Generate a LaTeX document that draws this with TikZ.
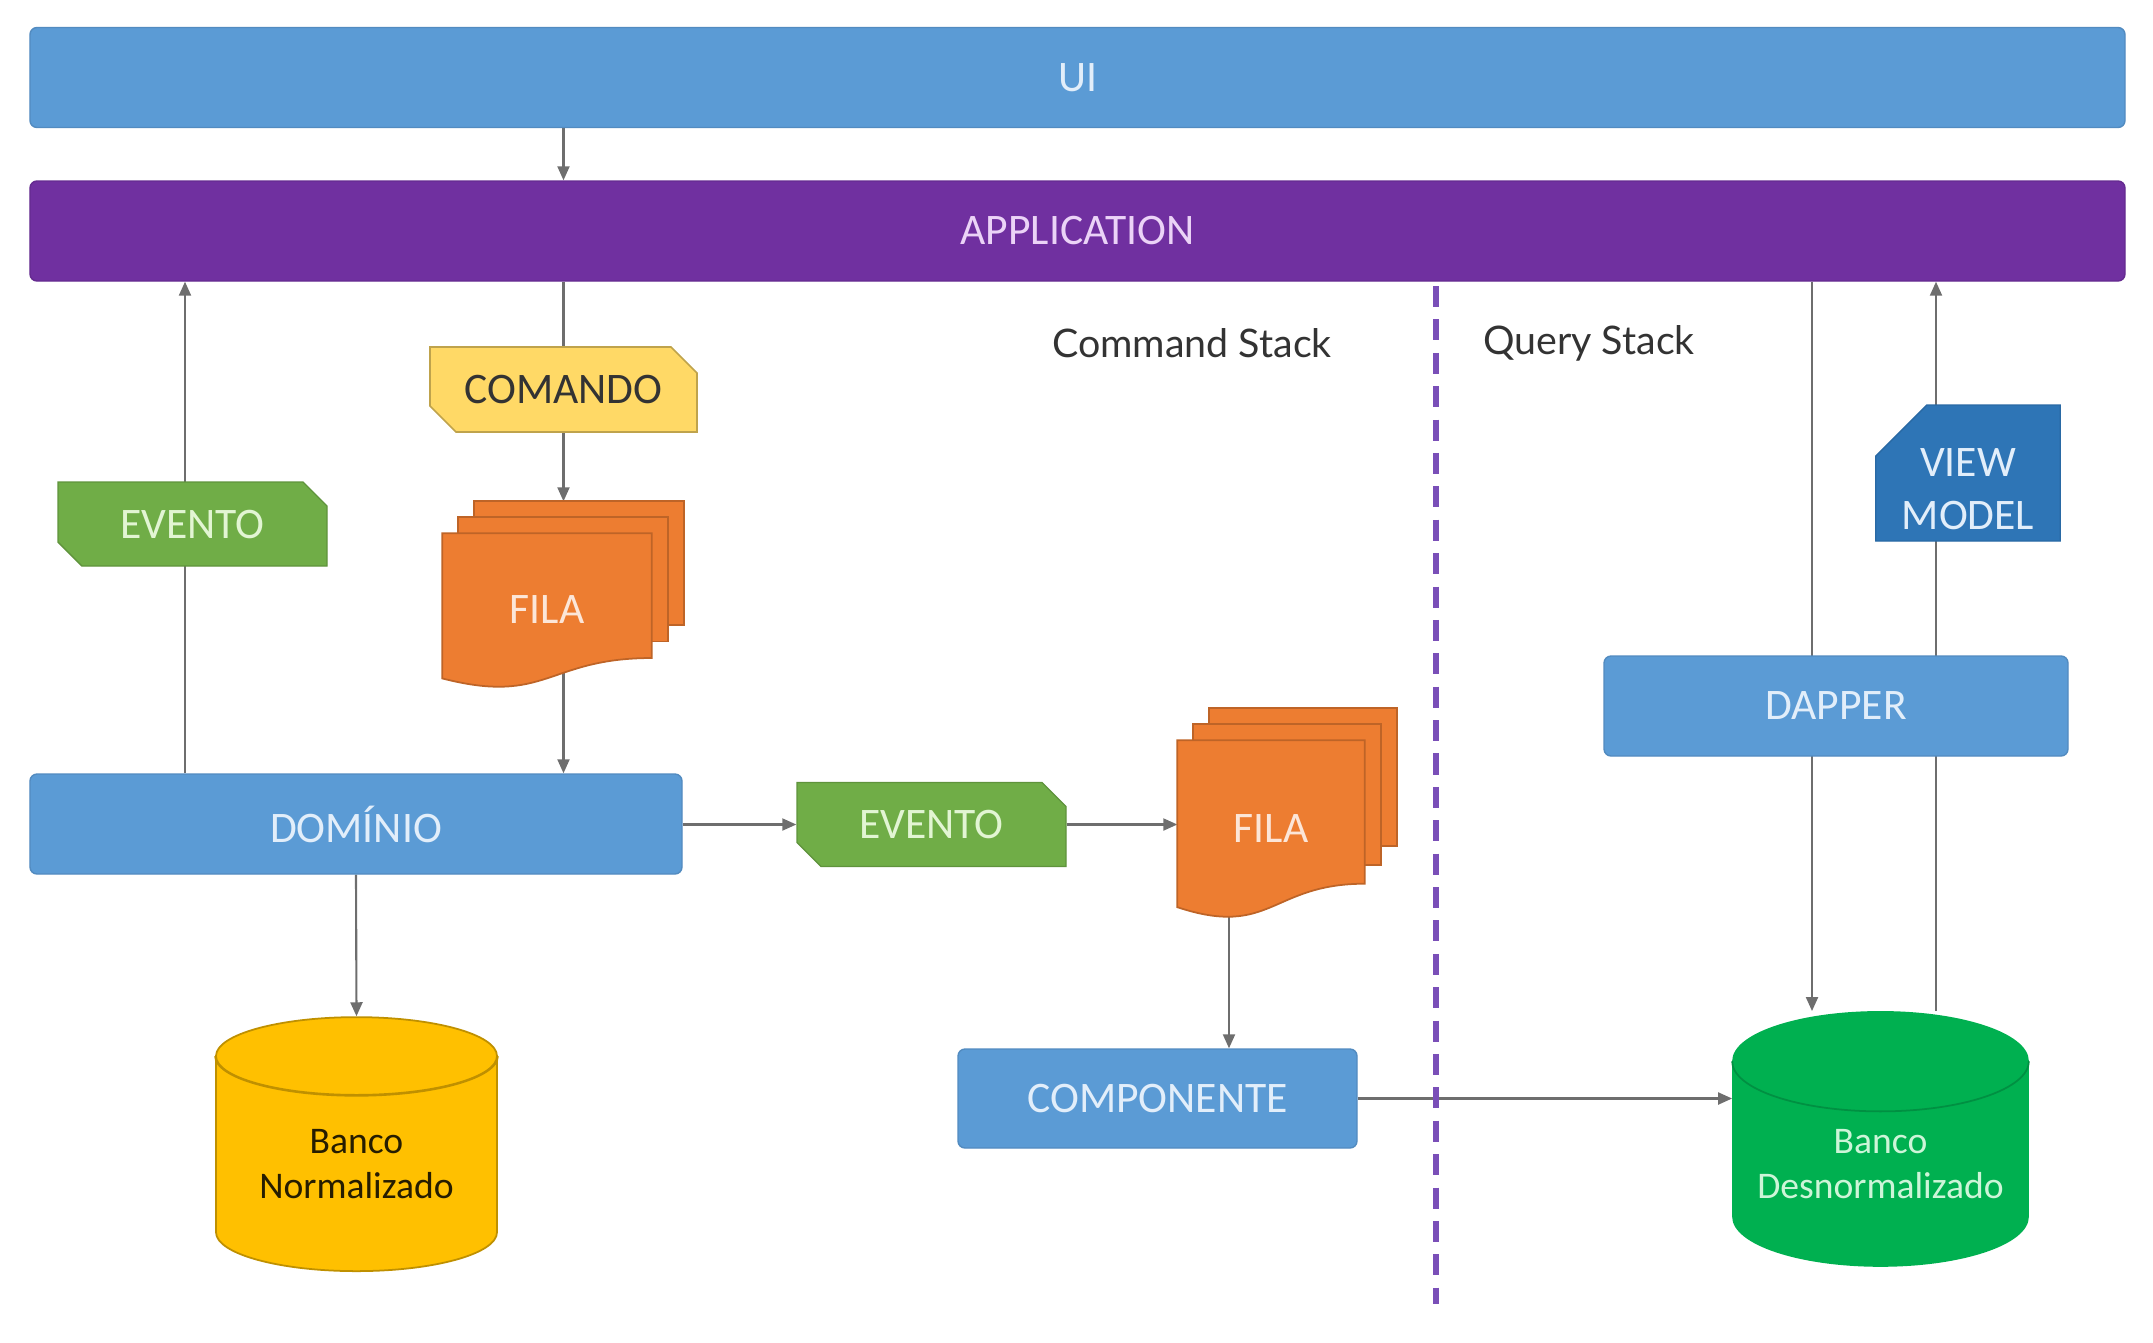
\documentclass[tikz,border=0pt]{standalone}
\usepackage{fontspec}
\setmainfont{Carlito}
\newfontfamily\latofont{Lato}
\usepackage{tikz}
\usetikzlibrary{arrows.meta,calc,shapes.geometric,shapes.misc}
\definecolor{uiblue}{HTML}{5B9BD5}
\definecolor{uitext}{HTML}{E2EEFA}
\definecolor{apppurple}{HTML}{7030A0}
\definecolor{apptext}{HTML}{EBD3F7}
\definecolor{cmdyellow}{HTML}{FFD966}
\definecolor{evgreen}{HTML}{70AD47}
\definecolor{evtext}{HTML}{E2F5D3}
\definecolor{filaorange}{HTML}{ED7D31}
\definecolor{filatext}{HTML}{FCE6D8}
\definecolor{vmblue}{HTML}{2E75B6}
\definecolor{dbyellow}{HTML}{FFC000}
\definecolor{dbgreen}{HTML}{00B050}
\definecolor{dbgtext}{HTML}{CDF5D8}
\definecolor{linegray}{HTML}{6E6E6E}
\definecolor{splitpurple}{HTML}{7A4FB8}
\definecolor{ink}{HTML}{333333}

\pgfdeclarelayer{edges}
\pgfdeclarelayer{pages}
\pgfsetlayers{edges,pages,main}

% three stacked pages behind a FILA node (front page = the node itself)
\newcommand{\filapages}[1]{%
  \begin{pgfonlayer}{pages}
    \filldraw[fill=filaorange, draw=filaorange!80!black, line width=0.5pt]
      let \p1=(#1.north west), \p2=(#1.south east) in
      (\x1+0.32cm,\y1+0.32cm) rectangle ({\x2+0.32cm},{\y1-0.60*(\y1-\y2)});
    \filldraw[fill=filaorange, draw=filaorange!80!black, line width=0.5pt]
      let \p1=(#1.north west), \p2=(#1.south east) in
      (\x1+0.16cm,\y1+0.16cm) rectangle ({\x2+0.16cm},{\y1-0.705*(\y1-\y2)});
    \filldraw[fill=filaorange, draw=filaorange!80!black, line width=0.5pt]
      let \p1=(#1.north west), \p2=(#1.south east) in
      (\x1,\y1) -- (\x2,\y1) -- (\x2,{\y1-0.813*(\y1-\y2)})
      .. controls ({\x1+0.5*(\x2-\x1)},{\y1-0.813*(\y1-\y2)}) and ({\x1+0.5*(\x2-\x1)},{\y1-1.122*(\y1-\y2)})
      .. (\x1,{\y1-0.946*(\y1-\y2)}) -- cycle;
  \end{pgfonlayer}}

% front rim of a cylinder's top
\newcommand{\dbrim}[2]{%
  \draw[#2, line width=0.5pt] let \p1=(#1.before top), \p2=(#1.after top), \p3=(#1.top) in
    ({min(\x1,\x2)},\y1) arc[start angle=180, end angle=360,
      x radius={0.5*abs(\x2-\x1)}, y radius={\y3-\y1}];}

\begin{document}
\begin{tikzpicture}
\useasboundingbox (0,0) rectangle (21.53,-13.42);

\tikzset{
  boxfont/.style={font=\fontsize{12.4}{15}\selectfont},
  layerbar/.style={rectangle, rounded corners=2pt, boxfont, inner sep=0pt,
                   minimum width=20.95cm, minimum height=1.0cm, line width=0.4pt},
  bluebox/.style={rectangle, rounded corners=2pt, fill=uiblue, draw=uiblue!90!black, line width=0.4pt,
                  boxfont, text=uitext, inner sep=0pt, minimum height=1.0cm},
  cmdbox/.style={chamfered rectangle, chamfered rectangle corners={north east,south west},
                 chamfered rectangle xsep=0.13cm, chamfered rectangle ysep=0.13cm,
                 fill=cmdyellow, draw=cmdyellow!75!black, line width=0.5pt, boxfont, text=ink,
                 inner sep=0pt, minimum width=2.67cm, minimum height=0.85cm},
  evbox/.style={chamfered rectangle, chamfered rectangle corners={north east,south west},
                chamfered rectangle xsep=0.12cm, chamfered rectangle ysep=0.12cm,
                fill=evgreen, draw=evgreen!85!black, line width=0.4pt, boxfont, text=evtext,
                inner sep=0pt, minimum width=2.69cm, minimum height=0.84cm},
  vmbox/.style={chamfered rectangle, chamfered rectangle corners=north west,
                chamfered rectangle xsep=0.26cm, chamfered rectangle ysep=0.25cm,
                fill=vmblue, draw=vmblue!90!black, line width=0.4pt, boxfont, text=uitext,
                align=center, inner sep=0pt, inner ysep=-0.14cm, minimum width=1.80cm, minimum height=1.36cm},
  filanode/.style={rectangle, inner sep=0pt, boxfont, text=filatext},
  dbnorm/.style={cylinder, shape border rotate=90, aspect=0.4, draw=dbyellow!75!black, line width=0.5pt,
                 fill=dbyellow, text=black!85!dbyellow, align=center, inner sep=0pt,
                 font=\fontsize{10.7}{12.9}\selectfont, minimum width=2.81cm, minimum height=2.54cm},
  dbdesn/.style={cylinder, shape border rotate=90, aspect=0.4, draw=dbgreen, line width=0.5pt,
                 fill=dbgreen, text=dbgtext, align=center, inner sep=0pt,
                 font=\fontsize{10.7}{12.9}\selectfont, minimum width=2.95cm, minimum height=2.54cm},
  stacklabel/.style={font=\latofont\fontsize{11.2}{13}\selectfont, text=ink},
  flow/.style={-{Triangle[length=1.4mm, width=1.2mm]}, line width=0.6pt, draw=linegray},
  plainflow/.style={line width=0.6pt, draw=linegray},
  stacksplit/.style={line width=1.6pt, draw=splitpurple, dash pattern=on 6pt off 3.5pt}}

% layers
\node[layerbar, fill=uiblue, draw=uiblue!90!black, text=uitext] (ui) at (10.775,-0.775) {UI};
\node[layerbar, fill=apppurple, draw=apppurple!90!black, text=apptext] (app) at (10.775,-2.31) {APPLICATION};

% command stack
\node[cmdbox] (comando) at (5.635,-3.895) {COMANDO};
\node[evbox] (evento1) at (1.925,-5.24) {EVENTO};
\node[filanode, minimum width=2.08cm, minimum height=1.52cm] (fila1) at (5.47,-6.10) {FILA};
\filapages{fila1}
\node[bluebox, minimum width=6.52cm] (dominio) at (3.56,-8.24) {DOMÍNIO};
\node[evbox] (evento2) at (9.315,-8.245) {EVENTO};
\node[filanode, minimum width=1.86cm, minimum height=1.75cm] (fila2) at (12.71,-8.285) {FILA};
\filapages{fila2}
\node[bluebox, minimum width=3.99cm, minimum height=0.99cm] (comp) at (11.575,-10.985) {COMPONENTE};
\node[dbnorm] (bancon) at (3.565,-11.64) {Banco\\Normalizado};
\dbrim{bancon}{dbyellow!75!black}

% query stack
\node[bluebox, minimum width=4.64cm] (dapper) at (18.36,-7.06) {DAPPER};
\node[vmbox] (vm) at (19.68,-4.73) {\mbox{}\\[2.2pt]VIEW\\MODEL};
\node[dbdesn] (bancod) at (18.805,-11.64) {Banco\\Desnormalizado};
\dbrim{bancod}{dbgreen!82!black}

\node[stacklabel] (cmdstack) at (11.92,-3.43) {Command Stack};
\node[stacklabel] (qrystack) at (15.89,-3.43) {Query Stack};

% vertical lanes
\coordinate (evup) at (1.85,0);
\coordinate (f2out) at (12.29,-8.3);
\coordinate (qdown) at (18.12,0);
\coordinate (qup) at (19.36,0);

\begin{pgfonlayer}{edges}
\draw[flow] (ui.south -| comando.north) -- (app.north -| comando.north);
\draw[plainflow] (app.south -| comando.north) -- (comando.north);
\draw[flow] (comando.south) -- ($(comando.south |- fila1.north)+(0,0.32)$);
\draw[flow] (fila1.center -| comando.south) -- (comando.south |- dominio.north);
\draw[flow] (dominio.north -| evup) -- (evup |- app.south);
\draw[flow] (dominio.south) -- (bancon.north);
\draw[flow] (dominio.east |- evento2.west) -- (evento2.west);
\draw[flow] (evento2.east) -- (evento2.east -| fila2.west);
\draw[flow] (f2out) -- (f2out |- comp.north);
\draw[flow] (comp.east) -- (comp.east -| bancod.west);
\draw[flow] (app.south -| qdown) -- (qdown |- bancod.north);
\draw[flow] (qup |- bancod.north) -- (qup |- app.south);
\end{pgfonlayer}

% command / query split
\coordinate (splittop) at (14.36,-2.86);
\coordinate (splitbot) at (14.36,-13.04);
\draw[stacksplit] (splittop) -- (splitbot);

\end{tikzpicture}
\end{document}
